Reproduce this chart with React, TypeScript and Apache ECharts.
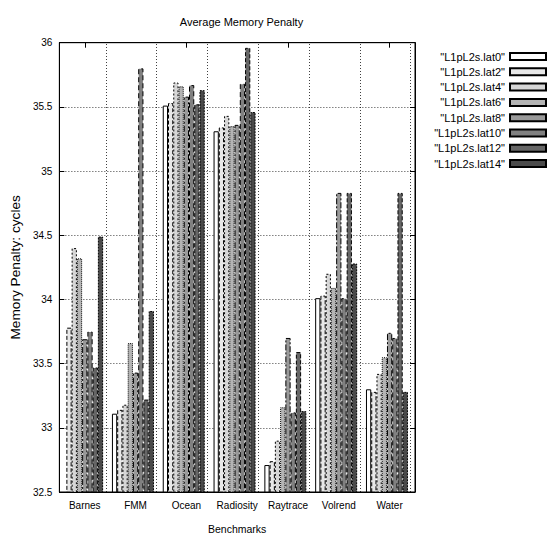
import React, { useEffect, useRef } from "react";
import * as echarts from "echarts";

const categories = ["Barnes", "FMM", "Ocean", "Radiosity", "Raytrace", "Volrend", "Water"];
const seriesNames = [
  '"L1pL2s.lat0"',
  '"L1pL2s.lat2"',
  '"L1pL2s.lat4"',
  '"L1pL2s.lat6"',
  '"L1pL2s.lat8"',
  '"L1pL2s.lat10"',
  '"L1pL2s.lat12"',
  '"L1pL2s.lat14"',
];
const lat0 = [null, 33.11, 35.51, 35.31, 32.71, 34.01, 33.3];
const lat2 = [33.78, 33.14, 35.53, 35.34, 32.74, 34.03, 33.28];
const lat4 = [34.4, 33.18, 35.69, 35.43, 32.9, 34.2, 33.42];
const lat6 = [34.32, 33.66, 35.66, 35.35, 33.16, 34.09, 33.55];
const lat8 = [33.69, 33.43, 35.58, 35.36, 33.7, 34.83, 33.74];
const lat10 = [33.75, 35.8, 35.67, 35.68, 33.12, 34.01, 33.7];
const lat12 = [33.47, 33.22, 35.52, 35.96, 33.59, 34.83, 34.83];
const lat14 = [34.49, 33.91, 35.63, 35.46, 33.13, 34.28, 33.28];
const allData = [lat0, lat2, lat4, lat6, lat8, lat10, lat12, lat14];

const yMin = 32.5;
const yMax = 36;
const yStep = 0.5;

const fills = ["#ffffff", "#e8e8e8", "#d6d6d6", "#b4b4b4", "#999999", "#808080", "#666666", "#4a4a4a"];
const borders: any[] = ["solid", [4, 2], [2, 2], [1, 1], [6, 2, 2, 2], [5, 3], [4, 2], [2, 1]];

const FONT = "'Liberation Sans', Arial, Helvetica, sans-serif";

export default function App() {
  const ref = useRef<HTMLDivElement>(null);
  useEffect(() => {
    if (!ref.current) return;
    document.body.style.margin = "0";
    const chart = echarts.init(ref.current, undefined, { renderer: "svg" });
    const barW = 5.25;
    const series: any[] = allData.map((d, i) => ({
      name: seriesNames[i],
      type: "bar",
      data: d.map((v) => (v === null ? "-" : v)),
      barWidth: barW,
      barGap: "0%",
      itemStyle: {
        color: fills[i],
        borderColor: "#000",
        borderWidth: 1,
        borderType: borders[i],
      },
      z: 3,
    }));
    series.push({
      name: "pad",
      type: "bar",
      data: categories.map(() => "-"),
      barWidth: barW,
      barGap: "0%",
      z: 1,
      silent: true,
      markLine: {
        silent: true,
        symbol: "none",
        label: { show: false },
        lineStyle: { color: "#000", width: 1, type: [1, 2], opacity: 0.75 },
        data: categories.map((c) => ({ xAxis: c })),
      },
    });
    chart.setOption({
      animation: false,
      backgroundColor: "#fff",
      title: {
        text: "Average Memory Penalty",
        left: 236.5,
        top: 11,
        textAlign: "center",
        textStyle: { fontFamily: FONT, fontSize: 11, fontWeight: "normal", color: "#000" },
      },
      legend: {
        data: seriesNames,
        orient: "vertical",
        right: 0,
        top: 49,
        align: "right",
        padding: 0,
        itemWidth: 36,
        itemHeight: 7,
        itemGap: 0.3,
        icon: "rect",
        textStyle: { fontFamily: FONT, fontSize: 11, color: "#000", lineHeight: 15 },
      },
      grid: {
        left: 59,
        right: 132,
        top: 42.7,
        bottom: 46,
        show: true,
        borderColor: "#000",
        borderWidth: 1,
        containLabel: false,
      },
      xAxis: [
        {
          type: "category",
          data: categories,
          position: "bottom",
          axisLine: { lineStyle: { color: "#000", width: 1 } },
          axisTick: { show: false },
          axisLabel: { color: "#000", fontFamily: FONT, fontSize: 10, margin: 8, interval: 0 },
          name: "Benchmarks",
          nameLocation: "middle",
          nameGap: 31,
          nameTextStyle: { color: "#000", fontFamily: FONT, fontSize: 10.5 },
          splitLine: { show: false },
        },
        {
          type: "category",
          data: categories,
          position: "top",
          axisLine: { lineStyle: { color: "#000", width: 1 } },
          axisTick: { show: true, inside: true, alignWithLabel: true, length: 5, lineStyle: { color: "#000" } },
          axisLabel: { show: false },
          splitLine: { show: false },
        },
      ],
      yAxis: [
        {
          type: "value",
          min: yMin,
          max: yMax,
          interval: yStep,
          position: "left",
          axisLine: { show: true, lineStyle: { color: "#000", width: 1 } },
          axisTick: { show: true, inside: true, length: 5, lineStyle: { color: "#000" } },
          axisLabel: { color: "#000", fontFamily: FONT, fontSize: 10, margin: 7 },
          splitLine: { show: true, lineStyle: { color: "#000", type: [1, 2], opacity: 0.75 } },
          name: "Memory Penalty: cycles",
          nameLocation: "middle",
          nameGap: 37,
          nameTextStyle: { color: "#000", fontFamily: FONT, fontSize: 13.7 },
        },
        {
          type: "value",
          min: yMin,
          max: yMax,
          interval: yStep,
          position: "right",
          axisLine: { show: true, lineStyle: { color: "#000", width: 1 } },
          axisTick: { show: true, inside: true, length: 5, lineStyle: { color: "#000" } },
          axisLabel: { show: false },
          splitLine: { show: false },
        },
      ],
      series,
    });
    return () => chart.dispose();
  }, []);
  return <div ref={ref} style={{ width: 547, height: 539 }} />;
}
